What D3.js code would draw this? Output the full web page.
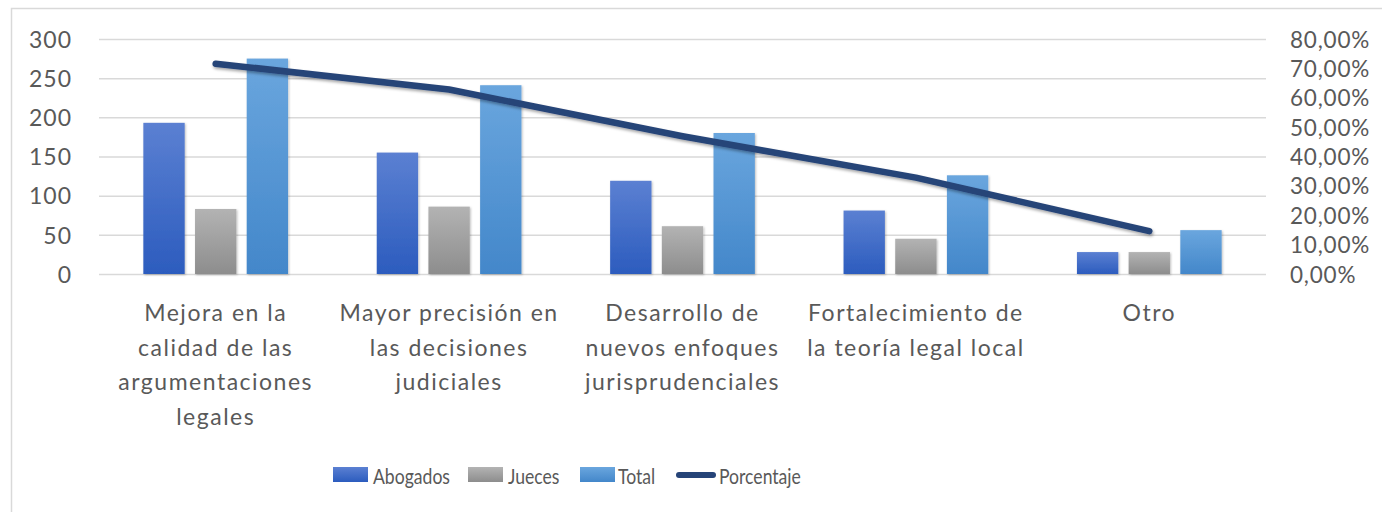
<!DOCTYPE html>
<html><head><meta charset="utf-8">
<script src="https://cdn.jsdelivr.net/npm/d3@7"></script>
<style>
html,body{margin:0;padding:0;background:#fff;}
svg{display:block;font-family:Lato, "Open Sans", sans-serif;}
</style></head>
<body>
<svg id="chart" width="1382" height="512"></svg>
<script>
const categories = [
  "Mejora en la calidad de las argumentaciones legales",
  "Mayor precisión en las decisiones judiciales",
  "Desarrollo de nuevos enfoques jurisprudenciales",
  "Fortalecimiento de la teoría legal local",
  "Otro"
];
const categoryLines = [
  ["Mejora en la", "calidad de las", "argumentaciones", "legales"],
  ["Mayor precisión en", "las decisiones", "judiciales"],
  ["Desarrollo de", "nuevos enfoques", "jurisprudenciales"],
  ["Fortalecimiento de", "la teoría legal local"],
  ["Otro"]
];
const seriesNames = ["Abogados", "Jueces", "Total"];
const abogados = [193, 155, 119, 81, 28];
const jueces = [83, 86, 61, 45, 28];
const total = [275, 241, 180, 126, 56];
const porcentaje = [0.716, 0.628, 0.469, 0.328, 0.146];
const leftTicks = [0, 50, 100, 150, 200, 250, 300];
const rightTicks = [0, 0.1, 0.2, 0.3, 0.4, 0.5, 0.6, 0.7, 0.8];
const lineName = "Porcentaje";

const svg = d3.select("#chart");
const W = 1382, H = 512;
const plot = {left: 99, right: 1266, top: 39, bottom: 274};
const textColor = "#595959";

const defs = svg.append("defs");
const grads = [
  {id: "gA", top: "#5b80d2", bot: "#2c5cbe"},
  {id: "gJ", top: "#b3b3b3", bot: "#8d8d8d"},
  {id: "gT", top: "#6aa6de", bot: "#4387ca"}
];
grads.forEach(g => {
  const lg = defs.append("linearGradient").attr("id", g.id).attr("x1", 0).attr("y1", 0).attr("x2", 0).attr("y2", 1);
  lg.append("stop").attr("offset", "0%").attr("stop-color", g.top);
  lg.append("stop").attr("offset", "100%").attr("stop-color", g.bot);
});
const sh = defs.append("filter").attr("id", "shadow").attr("x", "-20%").attr("y", "-20%").attr("width", "140%").attr("height", "140%");
sh.append("feDropShadow").attr("dx", 1).attr("dy", 2).attr("stdDeviation", 1.5).attr("flood-color", "#000").attr("flood-opacity", 0.35);
const shb = defs.append("filter").attr("id", "bshadow").attr("x", "-20%").attr("y", "-20%").attr("width", "140%").attr("height", "140%");
shb.append("feDropShadow").attr("dx", 1).attr("dy", 1).attr("stdDeviation", 1.2).attr("flood-color", "#000").attr("flood-opacity", 0.25);

svg.append("rect").attr("width", W).attr("height", H).attr("fill", "#fff");
// chart border (only top and left visible)
svg.append("rect").attr("x", 11.5).attr("y", 8.5).attr("width", 1500).attr("height", 700)
  .attr("fill", "none").attr("stroke", "#d9d9d9").attr("stroke-width", 1.5);

const y = d3.scaleLinear().domain([0, 300]).range([plot.bottom, plot.top]);
const y2 = d3.scaleLinear().domain([0, 0.8]).range([plot.bottom, plot.top]);
const x0 = d3.scaleBand().domain(categories).range([plot.left, plot.right]).padding(0);
const bw = x0.bandwidth();
const x1 = d3.scaleBand().domain(seriesNames).range([bw * 0.19, bw * 0.81]).paddingInner(0.2).paddingOuter(0);

// gridlines
svg.append("g").selectAll("line").data(leftTicks).join("line")
  .attr("x1", plot.left).attr("x2", plot.right)
  .attr("y1", d => y(d) + 0.5).attr("y2", d => y(d) + 0.5)
  .attr("stroke", "#d9d9d9").attr("stroke-width", 1.5);

// left axis
const la = svg.append("g").attr("transform", `translate(72,0)`)
  .call(d3.axisLeft(y).tickValues(leftTicks).tickSize(0).tickPadding(0));
la.select(".domain").remove();
la.selectAll("text").attr("fill", textColor).attr("font-size", 23).attr("font-family", "Lato")
  .attr("letter-spacing", 1).attr("dy", "0.36em");

// right axis
const fmtPct = v => d3.format(".2f")(v * 100).replace(".", ",") + "%";
const ra = svg.append("g").attr("transform", `translate(1290,0)`)
  .call(d3.axisRight(y2).tickValues(rightTicks).tickSize(0).tickPadding(0).tickFormat(fmtPct));
ra.select(".domain").remove();
ra.selectAll("text").attr("fill", textColor).attr("font-size", 22.5).attr("font-family", "Lato")
  .attr("letter-spacing", 0.8).attr("dy", "0.36em");

// bars
const seriesData = [abogados, jueces, total];
const fills = ["url(#gA)", "url(#gJ)", "url(#gT)"];
const groups = svg.append("g").selectAll("g").data(categories).join("g")
  .attr("transform", d => `translate(${x0(d)},0)`);
groups.selectAll("rect").data((c, i) => seriesNames.map((s, k) => ({s, k, v: seriesData[k][i]})))
  .join("rect")
  .attr("x", d => x1(d.s)).attr("width", x1.bandwidth())
  .attr("y", d => y(d.v)).attr("height", d => y(0) - y(d.v))
  .attr("fill", d => fills[d.k]).attr("filter", "url(#bshadow)");

// line
const line = d3.line().x((d, i) => x0(categories[i]) + bw / 2).y(d => y2(d));
svg.append("path").datum(porcentaje).attr("d", line)
  .attr("fill", "none").attr("stroke", "#264478").attr("stroke-width", 6.5)
  .attr("stroke-linecap", "round").attr("stroke-linejoin", "round").attr("filter", "url(#shadow)");

// category labels
const lab = svg.append("g");
categories.forEach((c, i) => {
  const cx = x0(c) + bw / 2;
  const t = lab.append("text").attr("x", cx).attr("y", 321)
    .attr("text-anchor", "middle").attr("fill", textColor).attr("font-size", 23).attr("font-family", "Lato")
    .attr("letter-spacing", 1.5);
  categoryLines[i].forEach((ln, j) => t.append("tspan").attr("x", cx).attr("y", 321 + j * 34.7).text(ln));
});

// legend
const legend = svg.append("g").attr("font-family", "Lato").attr("font-size", 22).attr("fill", textColor);
const legItems = [
  {name: seriesNames[0], type: "rect", fill: "url(#gA)", sx: 333, tx: 373},
  {name: seriesNames[1], type: "rect", fill: "url(#gJ)", sx: 468, tx: 508},
  {name: seriesNames[2], type: "rect", fill: "url(#gT)", sx: 580, tx: 618},
  {name: lineName, type: "line", sx: 676, tx: 719}
];
legItems.forEach(it => {
  if (it.type === "rect") {
    legend.append("rect").attr("x", it.sx).attr("y", 467).attr("width", 35).attr("height", 15).attr("fill", it.fill);
  } else {
    legend.append("line").attr("x1", it.sx + 3).attr("x2", it.sx + 37).attr("y1", 475).attr("y2", 475)
      .attr("stroke", "#264478").attr("stroke-width", 6).attr("stroke-linecap", "round");
  }
  legend.append("text").attr("transform", `translate(${it.tx},484) scale(0.8,1)`).text(it.name);
});
</script>
</body></html>
